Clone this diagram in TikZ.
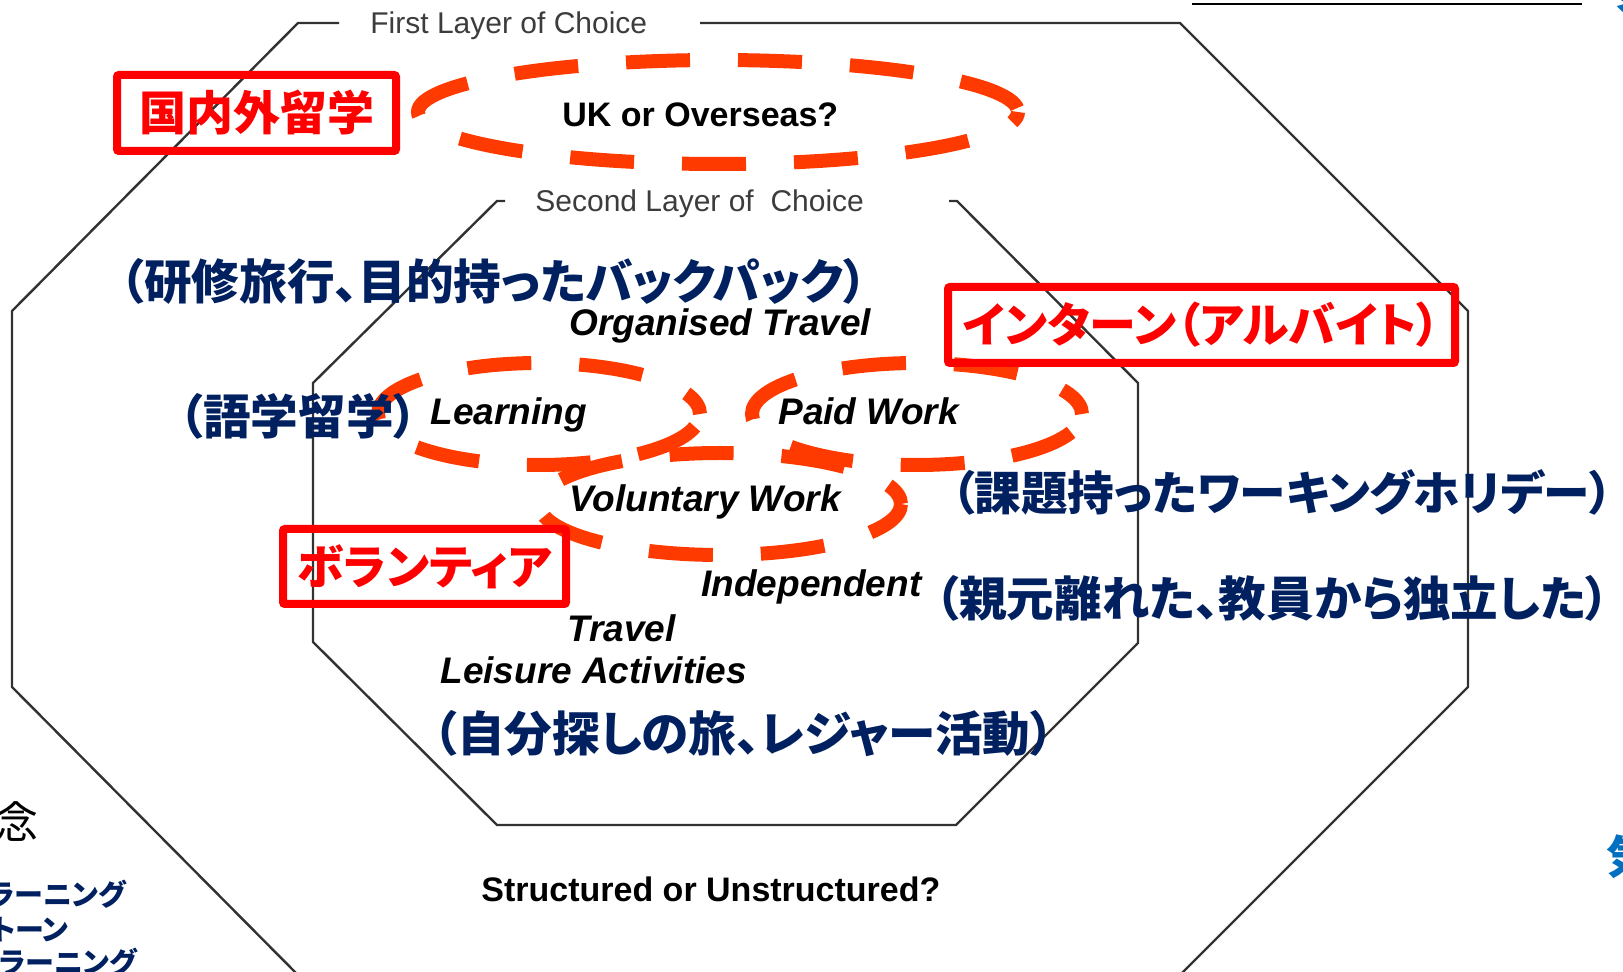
\documentclass[tikz,border=0pt]{standalone}
\usepackage{fontspec}
\newfontfamily\arial{Liberation Sans}
\newfontfamily\jp[RawFeature=+palt]{Noto Sans CJK JP}
\newfontfamily\jpn{Noto Sans CJK JP}
\definecolor{dashred}{RGB}{255,58,0}
\definecolor{boxred}{RGB}{255,0,0}
\definecolor{navy}{RGB}{0,32,96}
\definecolor{linegray}{RGB}{50,50,50}
\definecolor{labgray}{RGB}{60,60,60}
\definecolor{blueside}{RGB}{0,112,192}
\begin{document}
\begin{tikzpicture}[x=0.5pt,y=-0.5pt,
  octline/.style={draw=linegray, line width=1.2pt, line join=miter},
  dashell/.style={draw=dashred, line width=7pt, dash pattern=on 32pt off 24pt},
  redbox/.style={draw=boxred, line width=4pt, rounded corners=1pt, inner sep=0pt,
     text=boxred, font=\jp\bfseries\fontsize{23.5}{28}\selectfont},
  navytxt/.style={font=\jp\bfseries\fontsize{23.8}{28}\selectfont, text=navy, inner sep=0pt, anchor=west},
  lbl/.style={font=\arial\bfseries\itshape\fontsize{18.5}{22}\selectfont, inner sep=0pt, anchor=base west},
  qlbl/.style={font=\arial\bfseries\fontsize{17}{20}\selectfont, inner sep=0pt, anchor=base west},
  layerlbl/.style={font=\arial\fontsize{15}{18}\selectfont, text=labgray, inner sep=0pt, anchor=base west},
  sidetxt/.style={font=\jp\bfseries\fontsize{14.5}{17}\selectfont, text=navy, inner sep=0pt, anchor=east}
]
\useasboundingbox (0,0) rectangle (1623,972);
\clip (0,0) rectangle (1623,972);

% outer octagon (first layer)
\draw[octline] (339,23) -- (298,23) -- (12,311) -- (12,687) -- (298,975)
  -- (1180,975) -- (1468,687) -- (1468,311) -- (1180,23) -- (700,23);
% inner octagon (second layer)
\draw[octline] (505,201) -- (497,201) -- (313,383) -- (313,642) -- (497,825)
  -- (956,825) -- (1138,643) -- (1138,383) -- (957,201) -- (949,201);

% layer labels
\node[layerlbl] (first) at (370,34) {First Layer of Choice};
\node[layerlbl] (second) at (535,212) {Second Layer of\ \ Choice};

% dashed ellipses
\draw[dashell, dash phase=26pt] (718,112) ellipse [x radius=300, y radius=52];
\draw[dashell, dash phase=49pt] (539,414) ellipse [x radius=161, y radius=51];
\draw[dashell, dash phase=45pt] (917,414) ellipse [x radius=165, y radius=51];
\draw[dashell, dash phase=10pt] (720,504) ellipse [x radius=181, y radius=51];

% question labels
\node[qlbl] (uk) at (562,127) {UK or Overseas?};
\node[qlbl] (struct) at (481,901) {Structured or Unstructured?};

% activity labels
\node[lbl] (org) at (569,336) {Organised Travel};
\node[lbl] (learn) at (430,425) {Learning};
\node[lbl] (paid) at (778,425) {Paid Work};
\node[lbl] (vol) at (569,512) {Voluntary Work};
\node[lbl] (indep) at (701,597) {Independent};
\node[lbl] (travel) at (567,642) {Travel};
\node[lbl] (leisure) at (440,683) {Leisure Activities};

% navy Japanese notes
\node[navytxt] (jorg) at (120,281) {（研修旅行、目的持ったバックパック）};
\node[navytxt] (jlearn) at (179,416) {（語学留学）};
\node[navytxt, font=\jp\bfseries\fontsize{23.3}{28}\selectfont] (jpaid) at (951,492) {（課題持ったワーキングホリデー）};
\node[navytxt] (jindep) at (935,598) {（親元離れた、教員から独立した）};
\node[navytxt] (jleis) at (433,734) {（自分探しの旅、レジャー活動）};

% red boxes
\node[redbox, minimum width=139.5pt, minimum height=38pt] (kokunai) at (256.5,113) {国内外留学};
\node[redbox, minimum width=253.5pt, minimum height=38pt] (intern) at (1201.5,325) {インターン（アルバイト）};
\node[redbox, minimum width=141.5pt, minimum height=37.5pt] (volja) at (424.5,566.5) {ボランティア};

% fragments at the edges
\coordinate (ulA) at (1192,4);
\coordinate (ulB) at (1582,4);
\draw[black, line width=1.4pt] (ulA) -- (ulB);
\node[font=\jpn\bfseries\fontsize{22.5}{27}\selectfont, text=blueside, inner sep=0pt, anchor=west] (bluetop) at (1606,-8) {す};
\node[font=\jpn\bfseries\fontsize{22.5}{27}\selectfont, text=blueside, inner sep=0pt, anchor=west] (bluebot) at (1606,857) {気};
\node[font=\jpn\fontsize{22}{26}\selectfont, inner sep=0pt, anchor=east] (nen) at (39,822) {念};
\node[sidetxt] (s1) at (126,894) {ラーニング};
\node[sidetxt] (s2) at (69,930) {トーン};
\node[sidetxt] (s3) at (137,962) {・ラーニング};
\end{tikzpicture}
\end{document}
